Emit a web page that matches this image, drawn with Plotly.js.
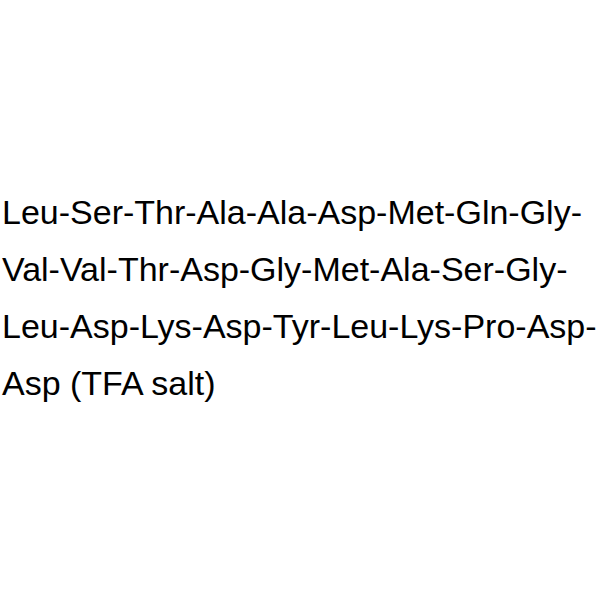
<!DOCTYPE html>
<html>
<head>
<meta charset="utf-8">
<script src="https://cdn.plot.ly/plotly-3.0.1.min.js"></script>
<style>
  html, body { margin: 0; padding: 0; background: #fff; }
  #chart { width: 600px; height: 600px; }
</style>
</head>
<body>
<div id="chart"></div>
<script>
// peptide sequence, one entry per printed line
const lines = [
  "Leu-Ser-Thr-Ala-Ala-Asp-Met-Gln-Gly-",
  "Val-Val-Thr-Asp-Gly-Met-Ala-Ser-Gly-",
  "Leu-Asp-Lys-Asp-Tyr-Leu-Lys-Pro-Asp-",
  "Asp (TFA salt)"
];

// layout of the text block (pixels)
const firstY = 212, step = 57, H = 600;

let annotations = lines.map(function(t, i) {
  return {
    text: t,
    xref: "paper", yref: "paper",
    x: 0, y: 1 - (firstY + i * step) / H,
    xanchor: "left", yanchor: "middle",
    showarrow: false,
    font: { family: "Arial, 'Liberation Sans', sans-serif", size: 34, color: "#000" }
  };
});

let layout = {
  width: 600, height: 600,
  margin: { l: 0, r: 0, t: 0, b: 0, pad: 0 },
  paper_bgcolor: "white",
  plot_bgcolor: "white",
  xaxis: { visible: false, range: [0, 1] },
  yaxis: { visible: false, range: [0, 1] },
  showlegend: false,
  annotations: annotations
};

Plotly.newPlot("chart", [], layout, { staticPlot: true, displayModeBar: false });
</script>
</body>
</html>
